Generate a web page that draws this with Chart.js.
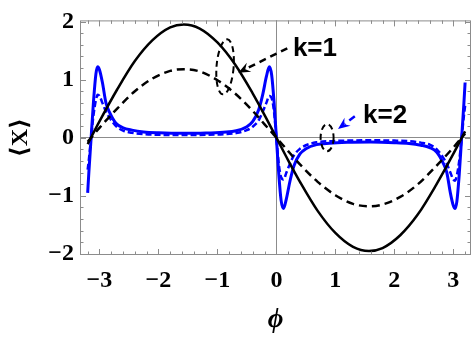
<!DOCTYPE html>
<html>
<head>
<meta charset="utf-8">
<script src="https://cdn.jsdelivr.net/npm/chart.js@4.4.0/dist/chart.umd.min.js"></script>
<style>
  html, body { margin: 0; padding: 0; background: #fff; }
  #wrap { width: 472px; height: 344px; }
</style>
</head>
<body>
<div id="wrap"><canvas id="myChart" width="472" height="344"></canvas></div>
<script>
// phase values and <X>
var phiBlack = [-3.2, -3.0, -2.7, -2.4, -2.1, -1.8, -1.57, -1.3, -1.0, -0.7, -0.4, -0.2, 0,
                0.2, 0.4, 0.7, 1.0, 1.3, 1.57, 1.8, 2.1, 2.4, 2.7, 3.0, 3.2];
var k1Solid  = [-0.11, 0.28, 0.83, 1.32, 1.68, 1.90, 1.95, 1.88, 1.64, 1.26, 0.76, 0.39, 0,
                -0.39, -0.76, -1.26, -1.64, -1.88, -1.95, -1.90, -1.68, -1.32, -0.83, -0.28, 0.11];
var k1Dashed = [-0.07, 0.17, 0.50, 0.80, 1.02, 1.15, 1.18, 1.14, 0.99, 0.76, 0.46, 0.23, 0,
                -0.23, -0.46, -0.76, -0.99, -1.14, -1.18, -1.15, -1.02, -0.80, -0.50, -0.17, 0.07];

var phiBlue = [-3.2, -3.18, -3.14, -3.1, -3.06, -3.03, -3.0, -2.95, -2.89, -2.82, -2.72, -2.6, -2.45, -2.25,
               -2.0, -1.6, -1.2, -0.9, -0.68, -0.5, -0.4, -0.3, -0.23, -0.17, -0.12, -0.08, -0.04, 0,
               0.04, 0.08, 0.12, 0.17, 0.23, 0.3, 0.4, 0.5, 0.68, 0.9, 1.2, 1.6, 2.0,
               2.25, 2.45, 2.6, 2.72, 2.82, 2.89, 2.95, 3.0, 3.03, 3.06, 3.1, 3.14, 3.18, 3.2];
var k2Solid = [-0.95, -0.6, 0.02, 0.64, 1.1, 1.22, 1.17, 0.95, 0.6, 0.42, 0.25, 0.17, 0.13, 0.1,
               0.085, 0.075, 0.08, 0.095, 0.12, 0.19, 0.28, 0.48, 0.75, 1.05, 1.22, 1.08, 0.62, 0,
               -0.62, -1.08, -1.22, -1.05, -0.75, -0.48, -0.28, -0.19, -0.12, -0.095, -0.08, -0.075, -0.085,
               -0.1, -0.13, -0.17, -0.25, -0.42, -0.6, -0.95, -1.17, -1.22, -1.1, -0.64, -0.02, 0.6, 0.95];
var k2Dashed = [-0.55, -0.38, 0.02, 0.4, 0.65, 0.74, 0.72, 0.6, 0.45, 0.33, 0.2, 0.12, 0.085, 0.06,
                0.05, 0.045, 0.05, 0.06, 0.08, 0.13, 0.19, 0.3, 0.45, 0.6, 0.72, 0.68, 0.45, 0,
                -0.45, -0.68, -0.72, -0.6, -0.45, -0.3, -0.19, -0.13, -0.08, -0.06, -0.05, -0.045, -0.05,
                -0.06, -0.085, -0.12, -0.2, -0.33, -0.45, -0.6, -0.72, -0.74, -0.65, -0.4, -0.02, 0.38, 0.55];

var xTicks = [-3, -2, -1, 0, 1, 2, 3];
var yTicks = [-2, -1, 0, 1, 2];

function pts(xs, ys) {
    return xs.map(function (x, i) { return {x: x, y: ys[i]}; });
}

var gray = '#8c8c8c';
var serif = '"Liberation Serif", "DejaVu Serif", serif';

// inward frame ticks, like the original frame
var frameTicks = {
    id: 'frameTicks',
    afterDraw: function (chart) {
        var ctx = chart.ctx, a = chart.chartArea, sx = chart.scales.x, sy = chart.scales.y;
        ctx.save();
        ctx.strokeStyle = gray;
        ctx.lineWidth = 1;
        ctx.strokeRect(a.left + 0.5, a.top + 0.5, a.right - a.left - 1, a.bottom - a.top - 1);
        ctx.beginPath();
        for (var i = -16; i <= 16; i++) {
            var px = Math.round(sx.getPixelForValue(i * 0.2)) + 0.5;
            var len = (i % 5 === 0) ? 6 : 3.5;
            ctx.moveTo(px, a.bottom); ctx.lineTo(px, a.bottom - len);
            ctx.moveTo(px, a.top); ctx.lineTo(px, a.top + len);
        }
        for (var j = -10; j <= 10; j++) {
            var py = Math.round(sy.getPixelForValue(j * 0.2)) + 0.5;
            var l2 = (j % 5 === 0) ? 6 : 3.5;
            ctx.moveTo(a.left, py); ctx.lineTo(a.left + l2, py);
            ctx.moveTo(a.right, py); ctx.lineTo(a.right - l2, py);
        }
        ctx.stroke();
        ctx.restore();
    }
};

// ellipses, arrows and k labels, placed in data coordinates
var notes = [
    {ex: -0.87, ey: 1.22, rx: 0.145, ry: 0.475, rot: 0.08,
     from: [0.185, 1.54], to: [-0.646, 1.12], color: '#000000', text: 'k=1', tx: 0.28, ty: 1.53},
    {ex: 0.86, ey: 0.0, rx: 0.11, ry: 0.233, rot: 0,
     from: [1.33, 0.37], to: [1.045, 0.15], color: '#0000ff', text: 'k=2', tx: 1.47, ty: 0.38}
];

var annotate = {
    id: 'annotate',
    afterDatasetsDraw: function (chart) {
        var ctx = chart.ctx, sx = chart.scales.x, sy = chart.scales.y;
        notes.forEach(function (n) {
            ctx.save();
            // ellipse
            var cx = sx.getPixelForValue(n.ex), cy = sy.getPixelForValue(n.ey);
            var rxp = Math.abs(sx.getPixelForValue(n.ex + n.rx) - cx);
            var ryp = Math.abs(sy.getPixelForValue(n.ey + n.ry) - cy);
            ctx.strokeStyle = '#000';
            ctx.lineWidth = 2;
            ctx.setLineDash([6, 4]);
            ctx.beginPath();
            ctx.ellipse(cx, cy, rxp, ryp, n.rot, 0, Math.PI * 2);
            ctx.stroke();
            // arrow
            var x0 = sx.getPixelForValue(n.from[0]), y0 = sy.getPixelForValue(n.from[1]);
            var x1 = sx.getPixelForValue(n.to[0]), y1 = sy.getPixelForValue(n.to[1]);
            var ang = Math.atan2(y1 - y0, x1 - x0);
            var head = 12;
            ctx.strokeStyle = n.color;
            ctx.lineWidth = 2.5;
            ctx.setLineDash([7, 5]);
            ctx.beginPath();
            ctx.moveTo(x0, y0);
            ctx.lineTo(x1 - Math.cos(ang) * head * 0.7, y1 - Math.sin(ang) * head * 0.7);
            ctx.stroke();
            ctx.setLineDash([]);
            ctx.fillStyle = n.color;
            ctx.beginPath();
            ctx.moveTo(x1, y1);
            ctx.lineTo(x1 - Math.cos(ang) * head - Math.sin(ang) * 5, y1 - Math.sin(ang) * head + Math.cos(ang) * 5);
            ctx.lineTo(x1 - Math.cos(ang) * head * 0.65, y1 - Math.sin(ang) * head * 0.65);
            ctx.lineTo(x1 - Math.cos(ang) * head + Math.sin(ang) * 5, y1 - Math.sin(ang) * head - Math.cos(ang) * 5);
            ctx.closePath();
            ctx.fill();
            // label
            ctx.fillStyle = '#000';
            ctx.font = 'bold 26px "Liberation Sans", Arial, sans-serif';
            ctx.textAlign = 'left';
            ctx.textBaseline = 'middle';
            ctx.fillText(n.text, sx.getPixelForValue(n.tx), sy.getPixelForValue(n.ty));
            ctx.restore();
        });
    }
};

function zeroGrid(c) {
    return c.tick && c.tick.value === 0 ? gray : 'rgba(0,0,0,0)';
}
function minusLabel(v) {
    return String(v).replace('-', '\u2212');
}

new Chart('myChart', {
    type: 'line',
    data: {
        datasets: [{
            data: pts(phiBlack, k1Solid),
            borderColor: '#000000',
            borderWidth: 2.5,
            label: 'k=1',
            fill: false
        }, {
            data: pts(phiBlack, k1Dashed),
            borderColor: '#000000',
            borderWidth: 2.5,
            borderDash: [8, 5],
            label: 'k=1 dashed',
            fill: false
        }, {
            data: pts(phiBlue, k2Solid),
            borderColor: '#0000ff',
            borderWidth: 3,
            label: 'k=2',
            fill: false
        }, {
            data: pts(phiBlue, k2Dashed),
            borderColor: '#0000ff',
            borderWidth: 2.5,
            borderDash: [6, 3],
            label: 'k=2 dashed',
            fill: false
        }]
    },
    options: {
        responsive: false,
        animation: false,
        devicePixelRatio: 1,
        layout: { padding: { top: 13, right: 1, left: 0, bottom: 0 } },
        elements: {
            point: { radius: 0 },
            line: { cubicInterpolationMode: 'monotone' }
        },
        plugins: {
            legend: { display: false },
            tooltip: { enabled: false }
        },
        scales: {
            x: {
                type: 'linear',
                min: -3.33,
                max: 3.3,
                afterFit: function (s) { s.height = 89; },
                afterBuildTicks: function (s) { s.ticks = xTicks.map(function (v) { return {value: v}; }); },
                grid: { color: zeroGrid, drawTicks: false, lineWidth: 1 },
                border: { display: false },
                ticks: {
                    color: '#000',
                    padding: 11,
                    maxRotation: 0,
                    font: { family: serif, size: 24, weight: 'bold' },
                    callback: minusLabel
                },
                title: {
                    display: true,
                    text: '\u03D5',
                    color: '#000',
                    padding: { top: 0, bottom: 8 },
                    font: { family: serif, size: 27, weight: 'bold', style: 'italic' }
                }
            },
            y: {
                type: 'linear',
                min: -2.02,
                max: 2.02,
                afterFit: function (s) { s.width = 80; },
                afterBuildTicks: function (s) { s.ticks = yTicks.map(function (v) { return {value: v}; }); },
                grid: { color: zeroGrid, drawTicks: false, lineWidth: 1 },
                border: { display: false },
                ticks: {
                    color: '#000',
                    padding: 6,
                    font: { family: serif, size: 24, weight: 'bold' },
                    callback: minusLabel
                },
                title: {
                    display: true,
                    text: '\u27E8X\u27E9',
                    color: '#000',
                    padding: { top: 6, bottom: 0 },
                    font: { family: serif, size: 24, weight: 'bold' }
                }
            }
        }
    },
    plugins: [frameTicks, annotate]
});
</script>
</body>
</html>
